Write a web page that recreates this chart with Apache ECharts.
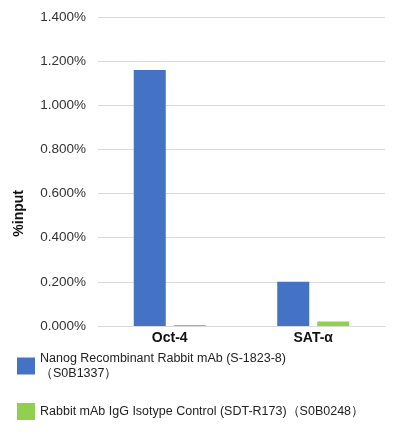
<!DOCTYPE html>
<html><head><meta charset="utf-8">
<script src="https://cdn.jsdelivr.net/npm/echarts@6/dist/echarts.min.js"></script>
<style>html,body{margin:0;padding:0;background:#fff}#c{width:416px;height:440px}</style>
</head><body><div id="c"></div>
<script>
const categories = ['Oct-4', 'SAT-α'];
const seriesNames = ['Nanog Recombinant Rabbit mAb (S-1823-8)\n（S0B1337）', 'Rabbit mAb IgG Isotype Control (SDT-R173)（S0B0248）'];
const nanogValues = [1.16, 0.20];
const controlValues = [0.005, 0.02];
const yAxisTitle = '%input';
const chart = echarts.init(document.getElementById('c'));
const font = 'Arial, "Liberation Sans", sans-serif';
chart.setOption({
  animation: false,
  grid: {left: 98, right: 31, top: 17, bottom: 114},
  graphic: [{type: 'text', left: 12, top: 190, rotation: Math.PI / 2,
    style: {text: yAxisTitle, font: 'bold 14px ' + font, fill: '#111'}}],
  legend: {
    orient: 'vertical', left: 12, top: 346, itemWidth: 18, itemHeight: 17, itemGap: 22,
    icon: 'rect',
    textStyle: {fontFamily: font, fontSize: 12.5, color: '#222', lineHeight: 15},
    data: seriesNames
  },
  xAxis: {
    type: 'category', data: categories,
    axisLine: {lineStyle: {color: '#d9d9d9'}}, axisTick: {show: false},
    axisLabel: {fontFamily: font, fontSize: 14, fontWeight: 'bold', color: '#111', margin: 5}
  },
  yAxis: {
    type: 'value', min: 0, max: 1.4, interval: 0.2,
    axisLabel: {fontFamily: font, fontSize: 13.5, color: '#333', margin: 12, formatter: v => v.toFixed(3) + '%'},
    splitLine: {lineStyle: {color: '#d9d9d9'}}, axisLine: {show: false}, axisTick: {show: false}
  },
  series: [
    {name: seriesNames[0], type: 'bar', data: nanogValues, barWidth: 32, barGap: '25%', itemStyle: {color: '#4472C4'}},
    {name: seriesNames[1], type: 'bar', data: controlValues, barWidth: 32, itemStyle: {color: '#8FD14F'}}
  ]
});
</script></body></html>
